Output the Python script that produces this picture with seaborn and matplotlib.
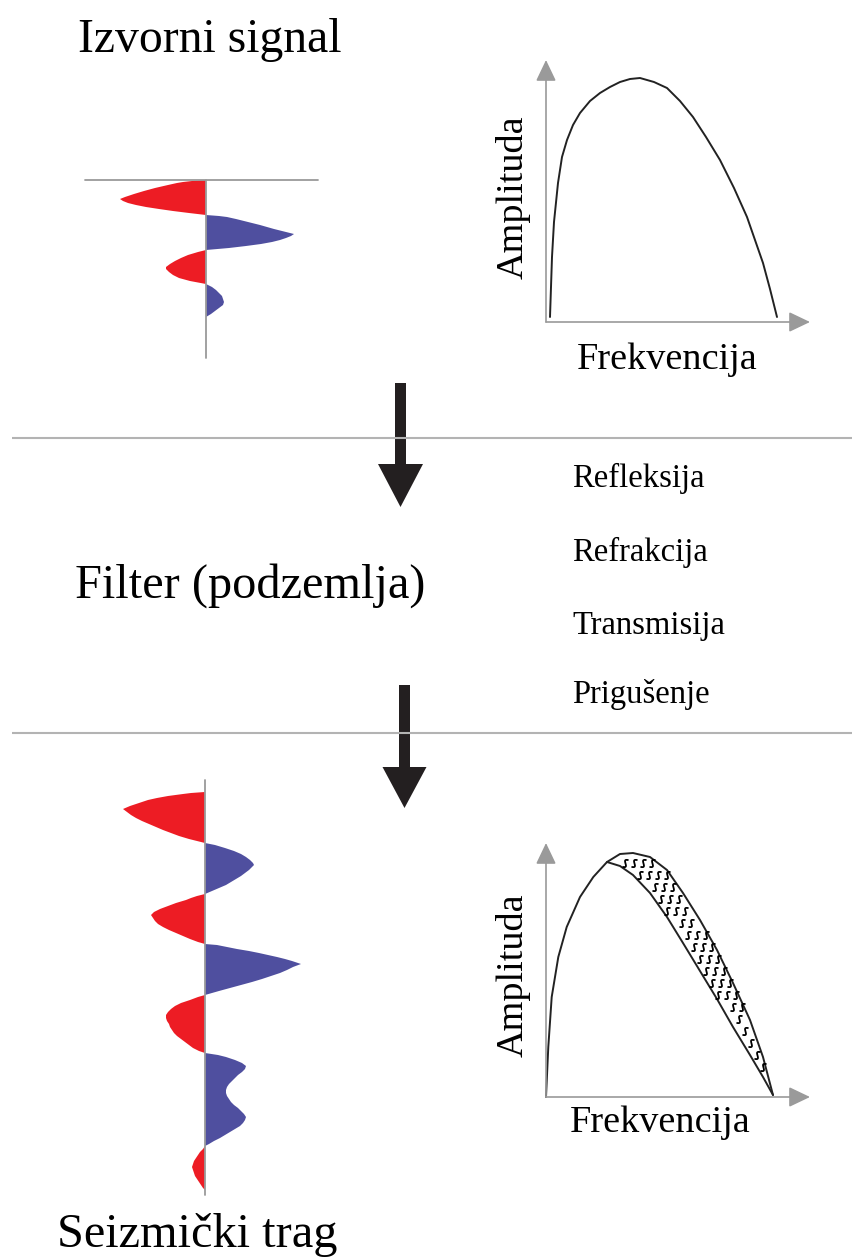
import numpy as np
import pandas as pd
import matplotlib
matplotlib.use("Agg")
import matplotlib.pyplot as plt
import seaborn as sns
from matplotlib.path import Path
from matplotlib.patches import FancyArrow

# ---------------- data ----------------
# source wavelet: time (samples) and amplitude (negative = red, positive = blue)
src_t = [0, 1, 2, 3, 5, 8, 11, 14, 17, 19, 21, 23, 25, 27, 29, 31, 33, 35,
         36, 37, 39, 41, 43, 45, 47, 49, 51, 53, 54, 56, 58, 60, 62, 64, 66, 68, 70,
         72, 75, 78, 81, 84, 87, 89, 92, 95, 98, 101, 104,
         107, 110, 113, 116, 119, 122, 125, 128, 131, 134, 137]
src_amp = [0, -14, -23, -29, -38, -51, -62, -72, -81, -86, -83, -78, -70, -60, -47, -33, -17, 0,
           13, 21, 30, 38, 46, 54, 61, 68, 76, 84, 88, 85, 80, 74, 66, 55, 40, 23, 0,
           -8, -18, -25, -31, -36, -40, -40, -37, -33, -27, -16, 0,
           6, 10, 13, 16, 17, 18, 17, 13, 9, 5, 0]
src_len = 178

# seismic trace after filtering
trace_t = [12, 13, 14, 16, 18, 20, 23, 26, 29, 32, 35, 38, 41, 44, 47, 50, 53, 56, 59, 61, 63,
           65, 68, 71, 74, 77, 80, 83, 85, 87, 90, 93, 96, 99, 102, 105, 108, 111, 114,
           116, 118, 120, 123, 126, 129, 132, 135, 138, 141, 144, 147, 150, 153, 156, 159, 162, 164,
           165, 167, 169, 171, 173, 175, 177, 179, 181, 184, 187, 190, 193, 196, 199, 202, 205,
           208, 211, 213, 215,
           217, 220, 223, 226, 229, 232, 235, 238, 241, 244, 247, 250, 253, 256, 259, 262, 265,
           268, 271, 273,
           275, 277, 280, 283, 286, 289, 292, 295, 298, 301, 304, 307, 310, 313, 316, 319, 322,
           325, 328, 331, 334, 337, 340, 343, 346, 349, 352, 355, 358, 361, 364, 366,
           369, 372, 375, 378, 381, 384, 387, 390, 393, 396, 399, 402, 405, 408, 410]
trace_amp = [0, -14, -22, -37, -48, -57, -66, -75, -82, -78, -74, -69, -63, -56, -49, -42, -34, -26, -16, -8, 0,
             10, 20, 29, 36, 41, 45, 48, 49, 47, 44, 40, 36, 31, 26, 21, 14, 7, 0,
             -8, -14, -19, -29, -37, -45, -51, -54, -52, -50, -47, -42, -36, -29, -22, -15, -7, 0,
             12, 22, 32, 44, 54, 63, 72, 80, 87, 96, 88, 82, 75, 66, 57, 47, 36,
             25, 14, 7, 0,
             -7, -15, -24, -30, -34, -37, -39, -39, -38, -36, -35, -33, -31, -28, -24, -20, -16,
             -12, -6, 0,
             13, 21, 30, 37, 41, 40, 37, 33, 30, 27, 24, 22, 21, 21, 22, 24, 26,
             29, 33, 36, 39, 41, 40, 38, 35, 30, 25, 20, 15, 9, 4, 0,
             -2, -5, -7, -9, -11, -12, -13, -12, -11, -10, -8, -6, -4, -2, 0]
trace_len = 415

# source amplitude spectrum
spec_freq = [4, 5, 6, 8, 12, 16, 21, 27, 34, 44, 54, 64, 74, 84, 94, 108, 121, 134,
             147, 160, 174, 188, 201, 209, 217, 224, 231]
spec_amp = [5, 35, 65, 100, 139, 165, 182, 197, 209, 221, 229, 235, 240, 243, 244, 240, 234, 221,
            205, 185, 162, 134, 105, 82, 59, 33, 5]

# spectrum of the seismic trace: shared rising part, then original vs. attenuated
rise_freq = [0, 2.3, 5.7, 12.3, 20.7, 34, 47.3]
rise_amp = [0, 50, 100, 140, 170, 200, 220]
band_freq = [61, 74, 87, 104, 121, 137, 154, 171, 187, 204, 217, 227]
band_orig = [235, 243, 244, 240, 227, 204, 177, 147, 114, 77, 40, 2]
band_filt = [235, 231, 222, 204, 180, 154, 126, 98, 70, 42, 20, 2]

filter_effects = ["Refleksija", "Refrakcija", "Transmisija", "Prigušenje"]

# ---------------- style ----------------
sns.set_theme(style="white")
plt.rcParams["font.family"] = ["Liberation Serif", "DejaVu Serif"]

W, H = 853, 1258
fig = plt.figure(figsize=(W / 100, H / 100), dpi=100)
fig.patch.set_facecolor("white")

RED = "#ed1c24"
BLUE = "#4f4f9f"
AXGRAY = "#9a9a9a"


def px_axes(x0, y0, x1, y1, zorder=1):
    ax = fig.add_axes([x0 / W, 1 - y1 / H, (x1 - x0) / W, (y1 - y0) / H], zorder=zorder)
    ax.set_axis_off()
    ax.patch.set_alpha(0)
    return ax


# background axes in pixel coordinates for layout elements
bg = px_axes(0, 0, W, H, zorder=0)
bg.set_xlim(0, W)
bg.set_ylim(H, 0)

for yl in (438, 733):
    bg.plot([12, W], [yl, yl], color="#b3b3b3", lw=1.5, solid_capstyle="butt")

bg.add_patch(FancyArrow(400.5, 383, 0, 124, width=11, head_width=45, head_length=43,
                        length_includes_head=True, color="#231f20", lw=0))
bg.add_patch(FancyArrow(404.5, 685, 0, 123, width=11, head_width=44, head_length=41,
                        length_includes_head=True, color="#231f20", lw=0))

bg.text(78, 52, "Izvorni signal", fontsize=34.3, ha="left", va="baseline", color="black")
bg.text(75, 598, "Filter (podzemlja)", fontsize=34.8, ha="left", va="baseline", color="black")
bg.text(57, 1247, "Seizmički trag", fontsize=34.8, ha="left", va="baseline", color="black")
for lbl, yb in zip(filter_effects, [487, 561, 634, 703]):
    bg.text(572, yb, lbl, fontsize=23.5, ha="left", va="baseline", color="black")


# ---------------- wavelets ----------------
def draw_wavelet(ax, t, a, length, top_line=None):
    t = np.asarray(t, float)
    a = np.asarray(a, float)
    ax.fill_betweenx(t, 0, a, where=a <= 0, interpolate=True, color=RED, lw=0)
    ax.fill_betweenx(t, 0, a, where=a >= 0, interpolate=True, color=BLUE, lw=0)
    ax.plot([0, 0], [0, length], color=AXGRAY, lw=1.3, zorder=3)
    if top_line is not None:
        ax.plot(top_line, [0, 0], color=AXGRAY, lw=1.3, zorder=3)


wa = px_axes(80, 175, 330, 365)
wa.set_xlim(-126, 124)
wa.set_ylim(185, -5)
draw_wavelet(wa, src_t, src_amp, src_len, top_line=[-121, 112])

wb = px_axes(80, 775, 330, 1200)
wb.set_xlim(-125, 125)
wb.set_ylim(420, -5)
draw_wavelet(wb, trace_t, trace_amp, trace_len)


# ---------------- spectra ----------------
def spectrum_axes(x0, y0, x1, y1, ox, oy):
    ax = px_axes(x0, y0, x1, y1)
    ax.set_xlim(x0 - ox, x1 - ox)
    ax.set_ylim(oy - y1, oy - y0)
    return ax


def draw_axes_arrows(ax, xmax, ymax):
    style = "-|>,head_length=13,head_width=6.2"
    ax.annotate("", xy=(xmax, 0), xytext=(0, 0),
                arrowprops=dict(arrowstyle=style, color=AXGRAY, lw=1.2,
                                mutation_scale=1, shrinkA=0, shrinkB=0))
    ax.annotate("", xy=(0, ymax), xytext=(0, 0),
                arrowprops=dict(arrowstyle=style, color=AXGRAY, lw=1.2,
                                mutation_scale=1, shrinkA=0, shrinkB=0))


sa = spectrum_axes(500, 40, 840, 340, 546, 322)
draw_axes_arrows(sa, 264, 262)
df_top = pd.DataFrame({"freq": spec_freq, "amp": spec_amp})
sns.lineplot(data=df_top, x="freq", y="amp", ax=sa, color="#222222", lw=1.4, sort=False)
sa.set_axis_off()

sb = spectrum_axes(500, 820, 840, 1115, 546, 1097)
draw_axes_arrows(sb, 264, 254)
filt_freq = rise_freq + band_freq
filt_amp = rise_amp + band_filt
df_filt = pd.DataFrame({"freq": filt_freq, "amp": filt_amp})
df_orig = pd.DataFrame({"freq": band_freq, "amp": band_orig})
sns.lineplot(data=df_filt, x="freq", y="amp", ax=sb, color="#222222", lw=1.4, sort=False)
sns.lineplot(data=df_orig, x="freq", y="amp", ax=sb, color="#222222", lw=1.4, sort=False)
sb.set_axis_off()

# squiggle hatch inside the attenuated band
xs = np.linspace(-1, 1, 25)
ys = 0.5 * np.sin(np.pi * xs)
ang = np.deg2rad(48)
verts = np.column_stack([xs * np.cos(ang) - ys * np.sin(ang), xs * np.sin(ang) + ys * np.cos(ang)])
squiggle = Path(verts, [Path.MOVETO] + [Path.LINETO] * (len(verts) - 1))
hx, hy = [], []
for i, arow in enumerate(np.arange(6, 250, 12)):
    for f in np.arange(58 + (i % 3) * 3, 230, 9):
        lo = np.interp(f, band_freq, band_filt)
        up = np.interp(f, band_freq, band_orig)
        if lo + 5 < arow < up - 4:
            hx.append(f)
            hy.append(arow)
sb.plot(hx, hy, linestyle="none", marker=squiggle, markersize=5.2,
        markerfacecolor="none", markeredgecolor="black", markeredgewidth=1.3)

# axis labels
for yc in (197, 975):
    bg.text(513, yc, "Amplituda", fontsize=27.5, rotation=90, ha="center", va="center", color="black")
bg.text(667, 360, "Frekvencija", fontsize=27.5, ha="center", va="center", color="black")
bg.text(660, 1123, "Frekvencija", fontsize=27.5, ha="center", va="center", color="black")

fig.savefig("out.png", dpi=100, facecolor="white")
